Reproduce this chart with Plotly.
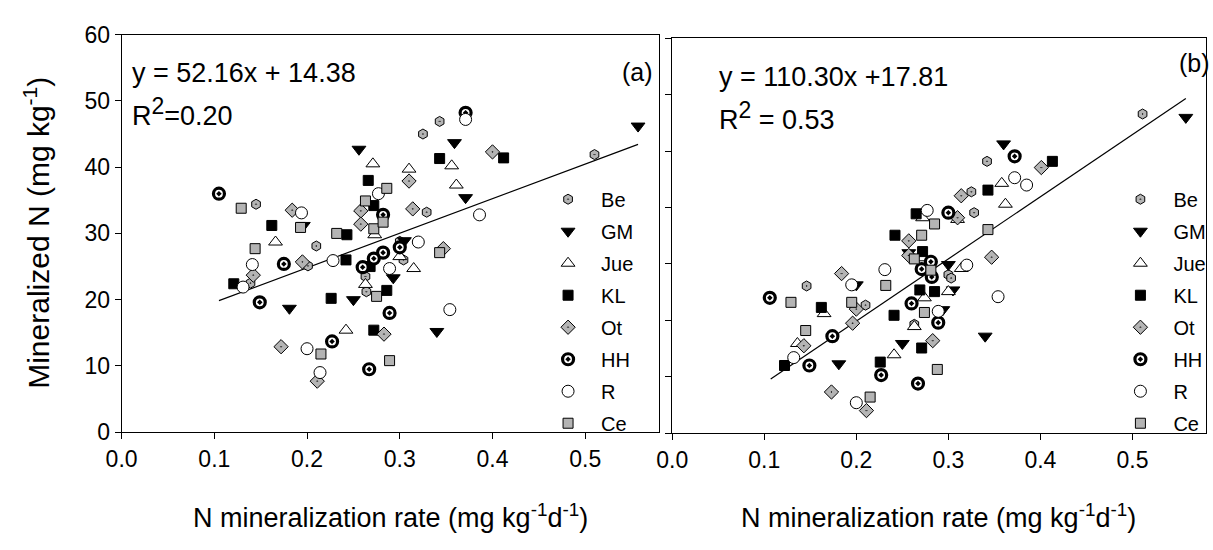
import plotly.graph_objects as go

# ---------------- data: panel (a) ----------------
series = ["Be", "GM", "Jue", "KL", "Ot", "HH", "R", "Ce"]

a_Be_x = [0.325, 0.343, 0.510, 0.145, 0.210, 0.201, 0.139, 0.329, 0.300, 0.304, 0.263, 0.264]
a_Be_y = [45.0, 46.9, 41.9, 34.4, 28.1, 25.1, 22.5, 33.2, 28.8, 26.0, 23.5, 21.2]
a_GM_x = [0.557, 0.256, 0.359, 0.371, 0.196, 0.181, 0.250, 0.340, 0.305, 0.293]
a_GM_y = [46.2, 42.7, 43.7, 35.4, 31.2, 18.7, 20.0, 15.2, 28.9, 23.3]
a_Jue_x = [0.271, 0.310, 0.356, 0.361, 0.166, 0.242, 0.273, 0.315, 0.263, 0.300]
a_Jue_y = [40.5, 39.7, 40.2, 37.3, 28.7, 15.4, 29.8, 24.7, 22.3, 26.5]
a_KL_x = [0.266, 0.343, 0.412, 0.162, 0.121, 0.243, 0.242, 0.226, 0.272, 0.272, 0.268, 0.286]
a_KL_y = [38.0, 41.3, 41.4, 31.2, 22.4, 29.8, 26.0, 20.2, 15.4, 34.2, 25.0, 21.4]
a_Ot_x = [0.400, 0.310, 0.184, 0.195, 0.142, 0.172, 0.211, 0.283, 0.258, 0.258, 0.314, 0.347]
a_Ot_y = [42.3, 37.9, 33.5, 25.7, 23.7, 12.9, 7.7, 14.8, 33.4, 31.4, 33.7, 27.7]
a_HH_x = [0.371, 0.105, 0.175, 0.149, 0.227, 0.267, 0.289, 0.300, 0.282, 0.272, 0.260, 0.282]
a_HH_y = [48.2, 36.0, 25.4, 19.6, 13.7, 9.5, 18.0, 27.9, 27.1, 26.2, 24.9, 32.8]
a_R_x = [0.371, 0.277, 0.194, 0.141, 0.131, 0.228, 0.200, 0.214, 0.354, 0.386, 0.320, 0.289]
a_R_y = [47.2, 36.0, 33.1, 25.3, 21.9, 25.9, 12.6, 9.0, 18.5, 32.8, 28.7, 24.7]
a_Ce_x = [0.286, 0.263, 0.129, 0.193, 0.144, 0.232, 0.215, 0.289, 0.272, 0.282, 0.275, 0.343]
a_Ce_y = [36.8, 34.9, 33.8, 30.9, 27.7, 30.0, 11.8, 10.8, 30.7, 31.7, 20.5, 27.1]

# ---------------- data: panel (b) ----------------
b_Be_x = [0.511, 0.342, 0.325, 0.328, 0.300, 0.303, 0.146, 0.210, 0.263]
b_Be_y = [76.6, 68.2, 62.8, 59.1, 48.1, 47.5, 46.1, 42.7, 39.3]
b_GM_x = [0.558, 0.360, 0.257, 0.300, 0.305, 0.294, 0.200, 0.340, 0.250, 0.181]
b_GM_y = [76.0, 71.3, 52.0, 49.9, 45.4, 41.9, 46.3, 37.2, 35.9, 32.3]
b_Jue_x = [0.358, 0.362, 0.272, 0.310, 0.272, 0.314, 0.300, 0.274, 0.165, 0.263, 0.136, 0.241]
b_Jue_y = [64.3, 60.6, 58.2, 57.9, 51.1, 49.2, 45.1, 44.0, 41.2, 38.9, 35.9, 33.9]
b_KL_x = [0.413, 0.343, 0.265, 0.242, 0.272, 0.269, 0.285, 0.241, 0.271, 0.162, 0.226, 0.122]
b_KL_y = [68.2, 63.1, 58.9, 55.1, 52.2, 45.4, 45.1, 40.9, 35.1, 42.3, 32.6, 32.0]
b_Ot_x = [0.401, 0.314, 0.310, 0.257, 0.257, 0.347, 0.184, 0.200, 0.196, 0.143, 0.283, 0.173, 0.211]
b_Ot_y = [67.1, 62.1, 58.2, 54.1, 51.5, 51.2, 48.3, 42.0, 39.5, 35.5, 36.4, 27.3, 24.0]
b_HH_x = [0.372, 0.300, 0.281, 0.271, 0.282, 0.106, 0.260, 0.289, 0.174, 0.149, 0.227, 0.267]
b_HH_y = [69.1, 59.1, 50.4, 49.1, 47.7, 44.0, 43.0, 39.6, 37.2, 32.0, 30.3, 28.8]
b_R_x = [0.372, 0.385, 0.277, 0.320, 0.231, 0.195, 0.354, 0.289, 0.132, 0.200]
b_R_y = [65.3, 64.0, 59.5, 49.8, 49.0, 46.3, 44.2, 41.6, 33.4, 25.4]
b_Ce_x = [0.285, 0.343, 0.271, 0.263, 0.281, 0.232, 0.129, 0.195, 0.274, 0.145, 0.288, 0.215]
b_Ce_y = [57.1, 56.1, 55.1, 50.9, 48.9, 46.2, 43.2, 43.2, 41.4, 38.2, 31.3, 26.4]

# regression equations
a_slope, a_intercept, a_r2 = 52.16, 14.38, 0.20
b_slope, b_intercept, b_r2 = 110.30, 17.81, 0.53
a_line_x = [0.105, 0.557]
b_line_x = [0.107, 0.558]

x_tickvals = [0.0, 0.1, 0.2, 0.3, 0.4, 0.5]
x_ticktext = ["0.0", "0.1", "0.2", "0.3", "0.4", "0.5"]
a_y_ticks = [0, 10, 20, 30, 40, 50, 60]
b_y_ticks = [20, 30, 40, 50, 60, 70, 80, 90]

x_title = "N mineralization rate (mg kg<sup>-1</sup>d<sup>-1</sup>)"
y_title = "Mineralized N (mg kg<sup>-1</sup>)"

# ---------------- styles ----------------
GRAY = "#b4b4b4"
styles = {
    "Be": dict(symbol="hexagon-dot", size=10, color=GRAY, line=dict(color="black", width=1)),
    "GM": dict(symbol="triangle-down", size=12, color="black", line=dict(color="black", width=1)),
    "Jue": dict(symbol="triangle-up", size=12, color="white", line=dict(color="black", width=1)),
    "KL": dict(symbol="square", size=10, color="black", line=dict(color="black", width=1)),
    "Ot": dict(symbol="diamond-dot", size=11, color=GRAY, line=dict(color="black", width=1)),
    "HH": dict(symbol="circle-dot", size=11, color="white", line=dict(color="black", width=3.2)),
    "R": dict(symbol="circle", size=12, color="white", line=dict(color="black", width=1)),
    "Ce": dict(symbol="square", size=10, color=GRAY, line=dict(color="black", width=1)),
}

data_a = {s: (globals()["a_%s_x" % s], globals()["a_%s_y" % s]) for s in series}
data_b = {s: (globals()["b_%s_x" % s], globals()["b_%s_y" % s]) for s in series}

FONT = "Liberation Sans, Arial, sans-serif"
fig = go.Figure()

# regression lines
fig.add_trace(go.Scatter(x=a_line_x, y=[a_slope * v + a_intercept for v in a_line_x],
                         mode="lines", line=dict(color="black", width=1.2),
                         showlegend=False, xaxis="x", yaxis="y", hoverinfo="skip"))
fig.add_trace(go.Scatter(x=b_line_x, y=[b_slope * v + b_intercept for v in b_line_x],
                         mode="lines", line=dict(color="black", width=1.2),
                         showlegend=False, xaxis="x2", yaxis="y2", hoverinfo="skip"))

for s in series:
    xs, ys = data_a[s]
    fig.add_trace(go.Scatter(x=xs, y=ys, mode="markers", name=s, marker=styles[s],
                             xaxis="x", yaxis="y", legend="legend",
                             legendgroup="a_" + s))
for s in series:
    xs, ys = data_b[s]
    fig.add_trace(go.Scatter(x=xs, y=ys, mode="markers", name=s, marker=styles[s],
                             xaxis="x2", yaxis="y2", legend="legend2",
                             legendgroup="b_" + s))

W, H = 1213, 550
def px(x):
    return x / W
def py(y):
    return 1 - y / H

axis_common = dict(showline=True, linecolor="black", linewidth=1, mirror=True,
                   ticks="outside", ticklen=6, tickwidth=1, tickcolor="black",
                   showgrid=False, zeroline=False,
                   tickfont=dict(family=FONT, size=23, color="black"))

legend_common = dict(font=dict(family=FONT, size=20, color="black"),
                     bgcolor="rgba(0,0,0,0)", borderwidth=0,
                     traceorder="grouped", tracegroupgap=3,
                     itemwidth=56, xanchor="left", yanchor="top")

fig.update_layout(
    width=W, height=H,
    margin=dict(l=0, r=0, t=0, b=0),
    paper_bgcolor="white", plot_bgcolor="white",
    showlegend=True,
    xaxis=dict(domain=[px(107), px(652)], range=[0, 0.58], tickvals=x_tickvals,
               ticktext=x_ticktext, anchor="y", **axis_common),
    yaxis=dict(domain=[py(440), py(22.7)], range=[0, 60], tickvals=a_y_ticks, anchor="x",
               **axis_common),
    xaxis2=dict(domain=[px(665), px(1206)], range=[0, 0.58], tickvals=x_tickvals,
                ticktext=x_ticktext, anchor="y2", **axis_common),
    yaxis2=dict(domain=[py(441), py(26.7)], range=[20, 90], tickvals=b_y_ticks,
                showticklabels=False, anchor="x2", **axis_common),
    legend=dict(x=px(526), y=py(175), **legend_common),
    legend2=dict(x=px(1106), y=py(175), **legend_common),
)

ann_font = dict(family=FONT, size=27, color="black")
title_font = dict(family=FONT, size=27, color="black")
def ann(text, x, y, xa="left", ya="middle", font=ann_font, angle=0):
    return dict(text=text, x=px(x), y=py(y), xref="paper", yref="paper",
                xanchor=xa, yanchor=ya, showarrow=False, font=font, textangle=angle)

sq = "<sup><span style='font-size:23px'>2</span></sup>"
annotations = [
    ann("y = %.2fx + %.2f" % (a_slope, a_intercept), 116, 63),
    ann("R" + sq + "=%.2f" % a_r2, 116, 104),
    ann("(a)", 648, 62, xa="right", font=dict(family=FONT, size=25, color="black")),
    ann("y = %.2fx +%.2f" % (b_slope, b_intercept), 710, 67),
    ann("R" + sq + " = %.2f" % b_r2, 710, 108),
    ann("(b)", 1212, 52, xa="right", font=dict(family=FONT, size=25, color="black")),
    ann(x_title, 380, 548, xa="center", ya="bottom", font=title_font),
    ann(x_title, 935, 548, xa="center", ya="bottom", font=title_font),
    ann(y_title, 21, 231, xa="center", ya="middle",
        font=dict(family=FONT, size=30, color="black"), angle=-90),
]
fig.update_layout(annotations=annotations)

fig.write_html("out.html")
